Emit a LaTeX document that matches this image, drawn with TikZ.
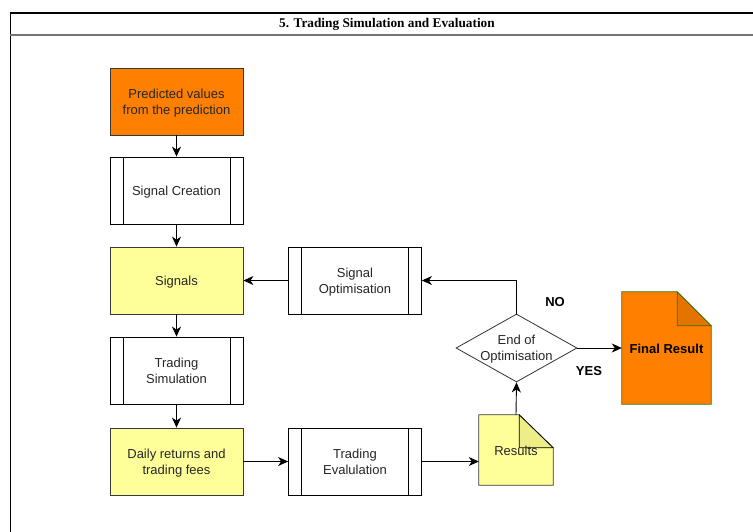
\documentclass[tikz,border=0pt]{standalone}
\usepackage{fontspec}
\setmainfont{Liberation Sans}
\newfontfamily\titlefont{Liberation Serif}
\usetikzlibrary{arrows.meta,shapes.geometric,calc}

\definecolor{orangefill}{HTML}{FF8000}
\definecolor{orangefold}{HTML}{E57300}
\definecolor{greenedge}{HTML}{2D7600}
\definecolor{yellowfill}{HTML}{FFFF99}
\definecolor{yellowfold}{HTML}{EEEE88}
\definecolor{darkedge}{HTML}{36393D}
\definecolor{boxtext}{HTML}{262626}

% taller first line, so box texts sit a little lower
\newcommand\lnup{\rule{0pt}{15pt}}

\tikzset{
  base/.style={rectangle, minimum width=133pt, minimum height=67pt, inner sep=2pt,
    align=center, font=\fontsize{13}{16}\selectfont, text=boxtext,
    execute at end node={\rule[-4.8pt]{0pt}{0pt}}},
  orangebox/.style={base, draw=darkedge, fill=orangefill, line width=0.8pt},
  yellowbox/.style={base, draw=darkedge, fill=yellowfill, line width=0.8pt},
  processbox/.style={base, draw=black, fill=white, line width=0.8pt,
    path picture={
      \draw[line width=0.8pt] ([xshift=13pt]path picture bounding box.north west)
        -- ([xshift=13pt]path picture bounding box.south west);
      \draw[line width=0.8pt] ([xshift=-13pt]path picture bounding box.north east)
        -- ([xshift=-13pt]path picture bounding box.south east);
    }},
  decision/.style={diamond, draw=black!80, fill=white, line width=0.8pt,
    minimum width=121pt, minimum height=68pt, aspect=1.78, inner sep=-2pt,
    align=center, font=\fontsize{13}{16}\selectfont, text=boxtext},
  docholder/.style={rectangle, inner sep=0pt, align=center},
  arr/.style={-{Stealth[length=10pt,width=9pt,inset=3pt]}, line width=0.9pt, draw=black},
  answer/.style={font=\bfseries\fontsize{13}{16}\selectfont, text=black},
  label text/.style={font=\fontsize{13}{16}\selectfont, text=boxtext},
}

\begin{document}
\begin{tikzpicture}[x=1pt,y=-1pt]
  \useasboundingbox (0,0) rectangle (753,531);
  \clip (0,0) rectangle (753,531);

  % lane frame and title bar
  \draw[line width=0.8pt] (10.5,13) -- (10.5,540);
  \draw[line width=1.4pt] (10,13) -- (760,13);
  \draw[line width=1.2pt, draw=black!55] (10,35) -- (760,35);
  \node[font=\titlefont\bfseries\fontsize{13.3}{15}\selectfont] (title) at (387,24.5)
    {5. Trading Simulation and Evaluation};

  % left column
  \node[orangebox]  (pred)  at (176.5,101.5) {\lnup Predicted values\\from the prediction};
  \node[processbox] (sc)    at (176.5,190.5) {\lnup Signal Creation};
  \node[yellowbox]  (sig)   at (176.5,280.5) {\lnup Signals};
  \node[processbox] (tsim)  at (176.5,370.5) {\lnup Trading\\Simulation};
  \node[yellowbox]  (daily) at (176.5,461.5) {\lnup Daily returns and\\trading fees};

  % middle column
  \node[processbox] (sopt)  at (355,280.5) {\lnup Signal\\Optimisation};
  \node[processbox] (teval) at (355,461.5) {\lnup Trading\\Evalulation};

  % decision
  \node[decision] (dec) at (516.5,348) {\rule{0pt}{12.5pt}End of\\Optimisation};

  % results document
  \node[docholder, minimum width=74pt, minimum height=70pt] (res) at (516,450) {};
  \draw[line width=0.8pt, draw=darkedge, fill=yellowfill]
    (res.north west) -- ($(res.north east)+(-34,0)$) -- ($(res.north east)+(0,33)$)
    -- (res.south east) -- (res.south west) -- cycle;
  \draw[line width=0.8pt, draw=black, fill=yellowfold]
    ($(res.north east)+(-34,0)$) -- ($(res.north east)+(0,33)$)
    -- ($(res.north east)+(-34,33)$) -- cycle;
  \node[label text] (restext) at ([yshift=-2pt]res) {\strut Results};

  % final result document
  \node[docholder, minimum width=89pt, minimum height=112pt] (final) at (666.5,348) {};
  \draw[line width=0.8pt, draw=greenedge, fill=orangefill]
    (final.north west) -- ($(final.north east)+(-34,0)$) -- ($(final.north east)+(0,34)$)
    -- (final.south east) -- (final.south west) -- cycle;
  \draw[line width=0.8pt, draw=greenedge, fill=orangefold]
    ($(final.north east)+(-34,0)$) -- ($(final.north east)+(0,34)$)
    -- ($(final.north east)+(-34,34)$) -- cycle;
  \node[answer] (finaltext) at ([yshift=-1pt]final) {Final Result};

  % connectors
  \draw[arr] (pred) -- (sc);
  \draw[arr] (sc) -- (sig);
  \draw[arr] (sig) -- (tsim);
  \draw[arr] (tsim) -- (daily);
  \draw[arr] (daily) -- (teval);
  \draw[arr] (teval.east) -- (teval.east -| res.west);
  \draw[arr] (res.north) -- (dec.south);
  \draw[arr] (dec.north) |- (sopt.east);
  \draw[arr] (sopt) -- (sig);
  \draw[arr] (dec.east) -- (final.west);

  % branch labels
  \node[answer] (lblno)  at (555,302) {NO};
  \node[answer] (lblyes) at (589,371) {YES};
\end{tikzpicture}
\end{document}
